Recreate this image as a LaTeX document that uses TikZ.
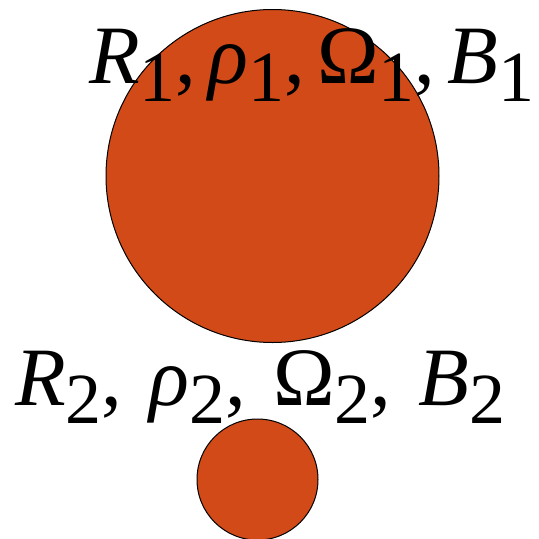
\documentclass[tikz,border=0pt]{standalone}
\usepackage{fontspec}
\setmainfont{Liberation Serif}
\usetikzlibrary{positioning}

\definecolor{ballorange}{RGB}{210,74,23}
\newcommand{\lowidx}[1]{\raisebox{-0.22em}{\fontsize{72}{74}\selectfont #1}}
% R_i, rho_i, Omega_i, B_i with a given gap after each comma
\newcommand{\proplist}[2]{\textit{R}\lowidx{#1},\hspace{#2}\textit{ρ}\lowidx{#1},\hspace{#2}Ω\lowidx{#1},\hspace{#2}\textit{B}\lowidx{#1}}

\begin{document}
\begin{tikzpicture}[x=1pt, y=1pt,
    ball/.style={circle, draw=black, line width=1pt, fill=ballorange, inner sep=0pt},
    props/.style={inner sep=0pt, anchor=base west, font=\fontsize{83}{90}\selectfont}]
  \useasboundingbox (0,0) rectangle (539,-539);

  \node[ball, minimum size=333pt] (star1) at (272.5,-176) {};
  \node[ball, minimum size=121pt] (star2) at (257.5,-479.5) {};

  \node[props] (label1) at (89,-83) {\proplist{1}{12pt}};
  \node[props] (label2) at (15,-405) {\proplist{2}{27pt}};
\end{tikzpicture}
\end{document}
